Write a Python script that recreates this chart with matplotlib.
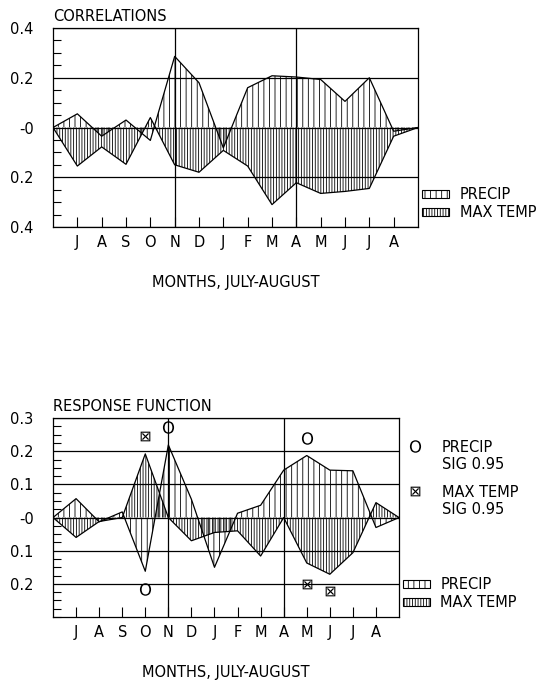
import matplotlib
matplotlib.use('Agg')
import matplotlib.pyplot as plt
from matplotlib.patches import Patch
from matplotlib.lines import Line2D
from matplotlib.ticker import MultipleLocator

# month positions: 0 = start (June), 1..14 = J A S O N D J F M A M J J A, 15 = end
x = list(range(16))
month_pos = list(range(1, 15))
months = ['J', 'A', 'S', 'O', 'N', 'D', 'J', 'F', 'M', 'A', 'M', 'J', 'J', 'A']

# correlations (upper panel)
corr_precip = [0, 0.055, -0.035, 0.03, -0.052, 0.286, 0.18, -0.082, 0.16, 0.208,
               0.203, 0.193, 0.105, 0.2, -0.015, 0]
corr_temp = [0, -0.155, -0.078, -0.148, 0.04, -0.15, -0.18, -0.092, -0.155, -0.31,
             -0.222, -0.265, -0.257, -0.245, -0.035, 0]

# response function (lower panel)
resp_precip = [0, 0.057, -0.013, 0.017, -0.162, 0.219, 0.055, -0.15, 0.013, 0.037,
               0.143, 0.187, 0.143, 0.141, -0.03, 0]
resp_temp = [0, -0.06, -0.012, 0.0, 0.192, 0.0, -0.07, -0.045, -0.04, -0.116,
             0.0, -0.137, -0.171, -0.106, 0.045, 0]

# significant at 0.95
sig_precip_x = [4, 5, 11]
sig_precip_y = [-0.215, 0.272, 0.240]
sig_temp_x = [4, 11, 12]
sig_temp_y = [0.245, -0.199, -0.221]

corr_yticks = [0.4, 0.2, 0, -0.2, -0.4]
corr_ylabels = ['0.4', '0.2', '-0', '0.2', '0.4']
resp_yticks = [0.3, 0.2, 0.1, 0, -0.1, -0.2]
resp_ylabels = ['0.3', '0.2', '0.1', '-0', '0.1', '0.2']
season_lines = [5, 10]  # November and April

plt.rcParams['font.family'] = ['DejaVu Sans']
plt.rcParams['font.size'] = 10.5
plt.rcParams['hatch.linewidth'] = 0.6

PRECIP_HATCH = '|||'
TEMP_HATCH = '||||||'
O_MARK = r'$\mathrm{O}$'
X_MARK = r'$\boxtimes$'


def draw_panel(ax, precip, temp, yticks, ylabels, ylim, minor_step, title):
    ax.fill_between(x, 0, precip, facecolor='none', edgecolor='black',
                    hatch=PRECIP_HATCH, linewidth=0)
    ax.fill_between(x, 0, temp, facecolor='none', edgecolor='black',
                    hatch=TEMP_HATCH, linewidth=0)
    ax.plot(x, precip, color='black', lw=0.9)
    ax.plot(x, temp, color='black', lw=0.9)
    for m in season_lines:
        ax.axvline(m, color='black', lw=0.9)

    ax.set_xlim(0, 15)
    ax.set_ylim(*ylim)
    ax.set_yticks(yticks, labels=ylabels)
    ax.yaxis.set_minor_locator(MultipleLocator(minor_step))
    ax.grid(axis='y', which='major', color='black', lw=0.9)
    ax.set_xticks(month_pos, labels=months)
    ax.tick_params(axis='y', which='major', length=0, pad=14)
    ax.tick_params(axis='y', which='minor', direction='in', length=6, width=0.8)
    ax.tick_params(axis='x', direction='in', length=7, width=0.8, pad=6)
    for s in ax.spines.values():
        s.set_linewidth(0.9)
    ax.set_xlabel('MONTHS, JULY-AUGUST', labelpad=18)
    ax.text(0, 1.02, title, transform=ax.transAxes, ha='left', va='bottom')

    handles = [Patch(facecolor='white', edgecolor='black', hatch=PRECIP_HATCH, lw=0.8),
               Patch(facecolor='white', edgecolor='black', hatch=TEMP_HATCH, lw=0.8)]
    ax.legend(handles, ['PRECIP', 'MAX TEMP'], loc='upper left',
              bbox_to_anchor=(1.012, 0.199), frameon=False, borderpad=0,
              borderaxespad=0, handlelength=1.85, handleheight=0.5,
              handletextpad=0.7, labelspacing=0.2)


fig = plt.figure(figsize=(5.51, 6.8), dpi=100)
ax1 = fig.add_axes([0.0962, 0.6662, 0.6624, 0.2926])
ax2 = fig.add_axes([0.0962, 0.0926, 0.628, 0.2926])

draw_panel(ax1, corr_precip, corr_temp, corr_yticks, corr_ylabels,
           (-0.4, 0.4), 0.05, 'CORRELATIONS')
draw_panel(ax2, resp_precip, resp_temp, resp_yticks, resp_ylabels,
           (-0.3, 0.3), 0.025, 'RESPONSE FUNCTION')

ax2.plot(sig_precip_x, sig_precip_y, ls='none', marker=O_MARK, color='black',
         markersize=9, markeredgewidth=0)
ax2.plot(sig_temp_x, sig_temp_y, ls='none', marker=X_MARK, color='black',
         markersize=7, markeredgewidth=0)

# significance key: one small legend per variable
blank = Line2D([], [], ls='none')
sig_keys = [(O_MARK, 9, 'PRECIP', 0.892), (X_MARK, 7, 'MAX TEMP', 0.666)]
for mark, size, name, ytop in sig_keys:
    h = Line2D([], [], ls='none', marker=mark, color='black',
               markersize=size, markeredgewidth=0)
    fig.legend([h, blank], [name, 'SIG 0.95'], loc='upper left',
               bbox_to_anchor=(1.025, ytop), bbox_transform=ax2.transAxes,
               frameon=False, borderpad=0, borderaxespad=0, handlelength=1.0,
               handletextpad=1.35, labelspacing=0.14)

fig.savefig('out.png', dpi=100)
